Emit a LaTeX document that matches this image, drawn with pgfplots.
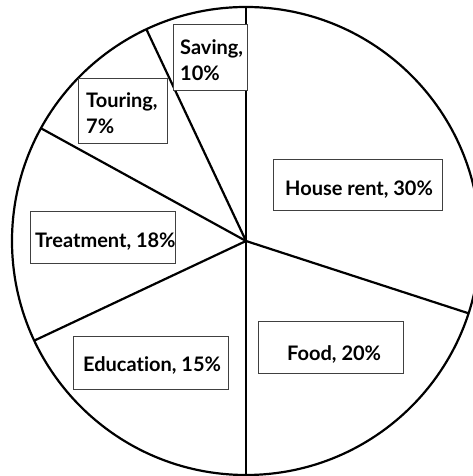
\documentclass[border=0pt]{standalone}
\usepackage{pgfplots}
\pgfplotsset{compat=1.18}
\usepackage{pgfplotstable}
\usepackage{fontspec}
\setmainfont{Lato}[Ligatures={NoCommon}]

% drawn share of each slice, clockwise from the top
\pgfplotstableread{
slice share
House 30
Food 20
Education 18
Treatment 15
Touring 10
Saving 7
}\piedata

\def\cx{246}
\def\cy{235}
\def\rad{234}

\begin{document}
\begin{tikzpicture}
\begin{axis}[
    hide axis,
    scale only axis,
    width=473pt, height=476pt,
    xmin=0, xmax=473, ymin=0, ymax=476,
    clip=true,
]
% outer circle
\draw[black, line width=2.2pt] (axis cs:\cx,\cy) circle[radius=\rad];
% slice borders
\pgfplotstablegetrowsof{\piedata}
\pgfmathtruncatemacro{\nrows}{\pgfplotsretval-1}
\xdef\curang{90}
\foreach \i in {0,...,\nrows}{
    \pgfplotstablegetelem{\i}{share}\of\piedata
    \pgfmathsetmacro{\bx}{\cx+\rad*cos(\curang)}
    \pgfmathsetmacro{\by}{\cy+\rad*sin(\curang)}
    \edef\tmp{\noexpand\addplot[black, line width=2.2pt, no marks] coordinates {(\cx,\cy) (\bx,\by)};}
    \tmp
    \pgfmathsetmacro{\nextang}{\curang-3.6*\pgfplotsretval}
    \xdef\curang{\nextang}
}
% label boxes
\tikzset{lbox/.style={draw=black!75, line width=1pt, fill=white}}
\draw[lbox] (axis cs:173,451) rectangle (axis cs:247,385);
\draw[lbox] (axis cs:78,397) rectangle (axis cs:167,332);
\draw[lbox] (axis cs:30,264) rectangle (axis cs:175,212);
\draw[lbox] (axis cs:73,139) rectangle (axis cs:228,86);
\draw[lbox] (axis cs:258,154) rectangle (axis cs:403,102);
\draw[lbox] (axis cs:273,316) rectangle (axis cs:442,265);
% label texts
\tikzset{ltxt/.style={anchor=base west, inner sep=0pt, font=\fontsize{20}{24}\selectfont\bfseries}}
\node[ltxt] at (axis cs:180,421) {Saving,};
\node[ltxt] at (axis cs:180,395) {10\%};
\node[ltxt] at (axis cs:86,368) {Touring,};
\node[ltxt] at (axis cs:86,342) {7\%};
\node[ltxt] at (axis cs:285,280) {House rent, 30\%};
\node[ltxt] at (axis cs:35,228) {Treatment, 18\%};
\node[ltxt] at (axis cs:83,104) {Education, 15\%};
\node[ltxt] at (axis cs:287,115) {Food, 20\%};
\end{axis}
\pgfresetboundingbox
\path (current axis.south west) rectangle (current axis.north east);
\end{tikzpicture}
\end{document}
